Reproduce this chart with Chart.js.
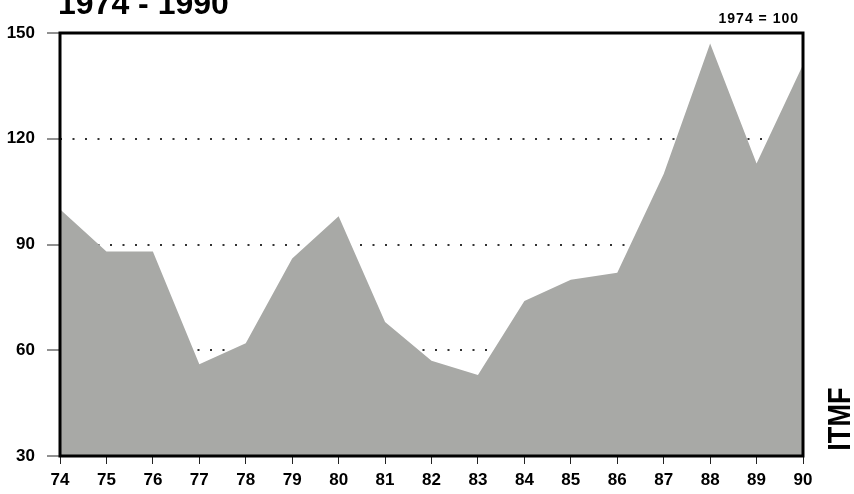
<!DOCTYPE html>
<html>
<head>
<meta charset="utf-8">
<script src="https://cdn.jsdelivr.net/npm/chart.js@4"></script>
<style>
  html, body { margin: 0; padding: 0; background: #fff; }
  #wrap { width: 854px; height: 494px; }
</style>
</head>
<body>
<div id="wrap"><canvas id="my_chart"></canvas></div>
<script>
// values (1974 = 100)
const years = ["74", "75", "76", "77", "78", "79", "80", "81", "82", "83", "84", "85", "86", "87", "88", "89", "90"];
const index_values = [100, 88, 88, 56, 62, 86, 98, 68, 57, 53, 74, 80, 82, 110, 147, 113, 141];
const y_ticks = [30, 60, 90, 120, 150];

const FONT = "'Liberation Sans', Arial, sans-serif";

// frame, heading texts and the ITMF mark
const decor = {
  id: "decor",
  afterDatasetsDraw(chart) {
    const c = chart.ctx;
    const a = chart.chartArea;
    c.save();
    c.strokeStyle = "#000";
    c.lineWidth = 3;
    c.strokeRect(a.left, a.top, a.right - a.left, a.bottom - a.top);

    c.fillStyle = "#000";
    c.textBaseline = "alphabetic";
    c.font = "bold 32px " + FONT;
    c.textAlign = "left";
    c.fillText("1974 - 1990", 58, 14);

    c.font = "bold 14px " + FONT;
    c.letterSpacing = "1px";
    c.textAlign = "right";
    c.fillText("1974 = 100", 799, 23);
    c.letterSpacing = "0px";

    c.translate(850, 419);
    c.rotate(-Math.PI / 2);
    c.scale(0.85, 1);
    c.font = "bold 32px " + FONT;
    c.textAlign = "center";
    c.fillText("ITMF", 0, 0);
    c.restore();
  }
};

const ctx = document.getElementById("my_chart");
new Chart(ctx, {
  type: "line",
  data: {
    labels: years,
    datasets: [
      {
        data: index_values,
        fill: "start",
        backgroundColor: "rgb(168,169,166)",
        borderWidth: 0,
        borderColor: "rgba(0,0,0,0)",
        pointRadius: 0,
        tension: 0,
      },
    ],
  },
  options: {
    responsive: true,
    maintainAspectRatio: false,
    animation: false,
    layout: { padding: { top: 33, right: 51, left: 0, bottom: 0 } },
    plugins: { legend: { display: false }, tooltip: { enabled: false } },
    scales: {
      x: {
        offset: false,
        afterFit(scale) { scale.height = 38; },
        border: { display: false },
        grid: {
          drawOnChartArea: false,
          tickLength: 8,
          tickColor: "#222",
          lineWidth: 1,
        },
        ticks: {
          color: "#000",
          padding: 6,
          maxRotation: 0,
          autoSkip: false,
          font: { family: FONT, size: 17, weight: "bold" },
        },
      },
      y: {
        min: 30,
        max: 150,
        afterFit(scale) { scale.width = 60; },
        afterBuildTicks(scale) { scale.ticks = y_ticks.map(v => ({ value: v })); },
        border: { display: false, dash: [2, 10.5] },
        grid: {
          color: c => (c.tick && (c.tick.value === 30 || c.tick.value === 150)) ? "rgba(0,0,0,0)" : "#333",
          lineWidth: 2,
          tickColor: "#222",
          tickBorderDash: [],
          tickWidth: 1,
          tickLength: 13,
        },
        ticks: {
          color: "#000",
          padding: 12,
          font: { family: FONT, size: 17, weight: "bold" },
        },
      },
    },
  },
  plugins: [decor],
});
</script>
</body>
</html>
